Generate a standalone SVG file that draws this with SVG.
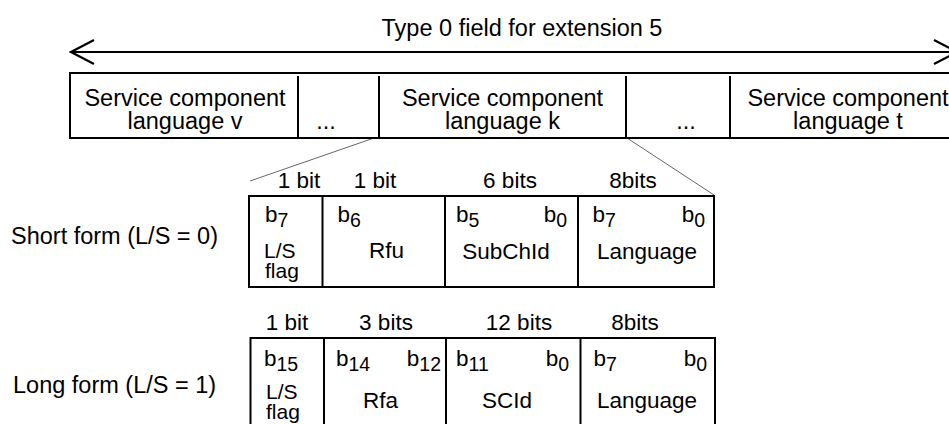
<svg xmlns="http://www.w3.org/2000/svg" width="949" height="424" viewBox="0 0 949 424">
<defs>
<style>
text{font-family:"Liberation Sans",Arial,sans-serif;fill:#000}
.t{font-size:23.5px}
.m{font-size:22.5px}
.f{font-size:21px}
.s{font-size:19.5px}
.c{text-anchor:middle}
.e{text-anchor:end}
.box{fill:none;stroke:#000;stroke-width:2}
.ln{stroke:#000;stroke-width:2}
.diag{stroke:#666;stroke-width:1;fill:none}
</style>
<marker id="ah" viewBox="0 0 26 26" refX="24" refY="13" markerWidth="26" markerHeight="26" markerUnits="userSpaceOnUse" orient="auto-start-reverse">
<polyline points="1,1 24,13 1,25" fill="none" stroke="#000" stroke-width="2.2"/>
</marker>
</defs>
<rect width="949" height="424" fill="#fff"/>

<g id="connectors">
<line x1="71" y1="52" x2="957" y2="52" class="ln" marker-start="url(#ah)" marker-end="url(#ah)"/>
<line x1="374" y1="138" x2="250" y2="181" class="diag"/>
<line x1="627" y1="138" x2="714" y2="195" class="diag"/>
</g>

<g id="title">
<text class="t c" x="522" y="36">Type 0 field for extension 5</text>
</g>

<g id="field-row">
<rect x="70" y="73" width="900" height="65" class="box"/>
<line x1="298" y1="76" x2="298" y2="138" class="ln"/>
<line x1="379" y1="76" x2="379" y2="138" class="ln"/>
<line x1="626" y1="76" x2="626" y2="138" class="ln"/>
<line x1="730" y1="76" x2="730" y2="138" class="ln"/>
</g>
<g id="lang-v">
<text class="t c" x="185" y="105.5">Service component</text>
<text class="t c" x="185" y="129">language v</text>
</g>
<g id="dots-1"><text class="t c" x="326" y="128.5">...</text></g>
<g id="lang-k">
<text class="t c" x="502.5" y="105.5">Service component</text>
<text class="t c" x="502.5" y="129">language k</text>
</g>
<g id="dots-2"><text class="t c" x="686" y="128.5">...</text></g>
<g id="lang-t">
<text class="t c" x="848" y="105.5">Service component</text>
<text class="t c" x="848" y="129">language t</text>
</g>

<g id="short-label">
<text class="t" x="11" y="244">Short form (L/S = 0)</text>
</g>
<g id="short-form">
<rect x="249" y="196" width="465" height="91" class="box"/>
<line x1="322.5" y1="196" x2="322.5" y2="287" class="ln"/>
<line x1="445" y1="196" x2="445" y2="287" class="ln"/>
<line x1="578" y1="196" x2="578" y2="287" class="ln"/>
<text class="m c" x="299" y="188.3">1 bit</text>
<text class="m c" x="375" y="188.3">1 bit</text>
<text class="m c" x="510" y="188.3">6 bits</text>
<text class="m c" x="633" y="188.3">8bits</text>
<text class="m" x="265" y="221.7">b<tspan class="s" dy="5">7</tspan></text>
<text class="m" x="337.5" y="221.7">b<tspan class="s" dy="5">6</tspan></text>
<text class="m" x="456" y="221.7">b<tspan class="s" dy="5">5</tspan></text>
<text class="m e" x="567" y="221.7">b<tspan class="s" dy="5">0</tspan></text>
<text class="m" x="592.5" y="221.7">b<tspan class="s" dy="5">7</tspan></text>
<text class="m e" x="705" y="221.7">b<tspan class="s" dy="5">0</tspan></text>
<text class="f" x="264" y="258">L/S</text>
<text class="f" x="265" y="278">flag</text>
<text class="m c" x="386.5" y="258.3">Rfu</text>
<text class="m c" x="506" y="259">SubChId</text>
<text class="m c" x="647" y="259">Language</text>
</g>

<g id="long-label">
<text class="t" x="13" y="392.5">Long form (L/S = 1)</text>
</g>
<g id="long-form">
<rect x="250.5" y="338" width="464.5" height="110" class="box"/>
<line x1="324" y1="338" x2="324" y2="448" class="ln"/>
<line x1="446" y1="338" x2="446" y2="448" class="ln"/>
<line x1="580.5" y1="338" x2="580.5" y2="448" class="ln"/>
<text class="m c" x="287" y="330">1 bit</text>
<text class="m c" x="386" y="330">3 bits</text>
<text class="m c" x="519" y="330">12 bits</text>
<text class="m c" x="635" y="330">8bits</text>
<text class="m" x="264" y="366">b<tspan class="s" dy="5">15</tspan></text>
<text class="m" x="336" y="366">b<tspan class="s" dy="5">14</tspan></text>
<text class="m e" x="441" y="366">b<tspan class="s" dy="5">12</tspan></text>
<text class="m" x="456" y="366">b<tspan class="s" dy="5">11</tspan></text>
<text class="m e" x="569" y="366">b<tspan class="s" dy="5">0</tspan></text>
<text class="m" x="593.5" y="366">b<tspan class="s" dy="5">7</tspan></text>
<text class="m e" x="707" y="366">b<tspan class="s" dy="5">0</tspan></text>
<text class="f" x="266" y="399">L/S</text>
<text class="f" x="266" y="419">flag</text>
<text class="m c" x="380.5" y="408">Rfa</text>
<text class="m c" x="507" y="408">SCId</text>
<text class="m c" x="647" y="408">Language</text>
</g>
</svg>
